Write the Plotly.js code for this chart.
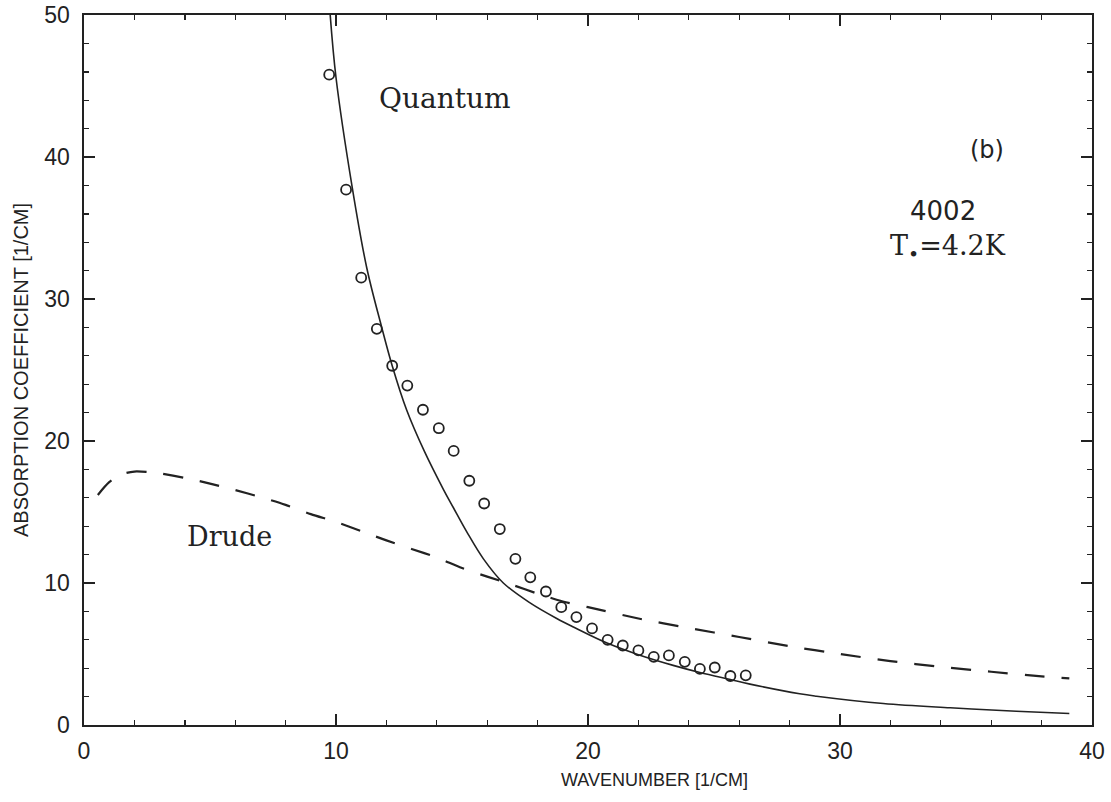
<!DOCTYPE html>
<html>
<head>
<meta charset="utf-8">
<script src="https://cdn.plot.ly/plotly-3.0.1.min.js"></script>
<style>html,body{margin:0;padding:0;background:#fff;}#chart{width:1111px;height:802px;}</style>
</head>
<body>
<div id="chart"></div>
<script>
// Measured absorption (open circles)
const dataX = [9.73, 10.40, 11.00, 11.62, 12.23, 12.83, 13.45, 14.08, 14.67, 15.29, 15.88, 16.50, 17.12, 17.71, 18.33, 18.94, 19.54, 20.16, 20.78, 21.38, 22.00, 22.61, 23.21, 23.84, 24.44, 25.03, 25.65, 26.26];
const dataY = [45.8, 37.7, 31.5, 27.9, 25.3, 23.9, 22.2, 20.9, 19.3, 17.2, 15.6, 13.8, 11.7, 10.4, 9.4, 8.3, 7.6, 6.8, 6.0, 5.6, 5.25, 4.8, 4.9, 4.45, 3.95, 4.05, 3.45, 3.5];

// Quantum model (solid)
const quantumX = [9.77, 10.0, 10.64, 11.22, 11.8, 12.23, 12.8, 13.5, 14.26, 14.66, 15.19, 15.85, 16.64, 17.7, 18.76, 19.42, 20.78, 22.0, 23.38, 24.44, 25.65, 26.43, 28.4, 29.07, 31.72, 34.37, 37.0, 39.1];
const quantumY = [50, 45.6, 37.9, 32.2, 28.1, 25.3, 22.2, 19.3, 16.6, 15.3, 13.6, 11.7, 10.0, 8.6, 7.5, 6.9, 5.75, 4.95, 4.2, 3.7, 3.2, 2.88, 2.2, 2.03, 1.51, 1.21, 0.97, 0.81];

// Drude model (dashed)
const drudeX = [0.55, 1.0, 1.5, 2.0, 2.5, 3.0, 4.0, 5.0, 6.0, 7.0, 8.0, 9.0, 10.0, 11.0, 12.0, 13.0, 14.0, 15.0, 16.0, 17.0, 18.0, 19.0, 20.0, 22.0, 24.0, 26.0, 28.0, 30.0, 32.0, 34.0, 36.0, 38.0, 39.1];
const drudeY = [16.2, 17.1, 17.65, 17.85, 17.82, 17.72, 17.4, 17.0, 16.55, 16.05, 15.5, 14.85, 14.3, 13.65, 13.0, 12.4, 11.8, 11.05, 10.45, 9.87, 9.25, 8.7, 8.3, 7.5, 6.83, 6.2, 5.55, 5.0, 4.5, 4.1, 3.75, 3.42, 3.28];

// Tick values
const xTicks = [0, 10, 20, 30, 40];
const yTicks = [0, 10, 20, 30, 40, 50];

const ink = '#222';

const traces = [
  {x: drudeX, y: drudeY, mode: 'lines', type: 'scatter', name: 'Drude',
   line: {color: ink, width: 2.2, dash: '20px,17px', shape: 'spline', smoothing: 0.8}, hoverinfo: 'x+y'},
  {x: quantumX, y: quantumY, mode: 'lines', type: 'scatter', name: 'Quantum',
   line: {color: ink, width: 1.6, shape: 'spline', smoothing: 1}, hoverinfo: 'x+y'},
  {x: dataX, y: dataY, mode: 'markers', type: 'scatter', name: 'data',
   marker: {symbol: 'circle-open', size: 10, color: ink, line: {color: ink, width: 1.8}}, hoverinfo: 'x+y'}
];

const axisCommon = {
  showgrid: false, zeroline: false, showline: true, linecolor: ink, linewidth: 1.6,
  mirror: 'allticks', ticks: 'inside', ticklen: 11, tickwidth: 1.6, tickcolor: ink,
  tickfont: {family: 'Liberation Sans, Arial, sans-serif', size: 23, color: ink},
  minor: {dtick: 2, ticks: 'inside', ticklen: 5, tickwidth: 1.4, tickcolor: ink}
};

const layout = {
  width: 1111, height: 802,
  margin: {l: 84, r: 19, t: 15, b: 77},
  paper_bgcolor: '#fff', plot_bgcolor: '#fff',
  showlegend: false,
  xaxis: Object.assign({}, axisCommon, {
    range: [0, 40], tickvals: xTicks, ticktext: xTicks.map(String), ticklabelstandoff: 5
  }),
  yaxis: Object.assign({}, axisCommon, {
    range: [0, 50], tickvals: yTicks, ticktext: yTicks.map(String), ticklabelstandoff: 8,
    title: {text: 'ABSORPTION COEFFICIENT [1/CM]', standoff: 10,
            font: {family: 'Liberation Sans Narrow, Liberation Sans, Arial, sans-serif', size: 20, color: ink}}
  }),
  annotations: [
    {xref: 'paper', yref: 'paper', x: 0.566, y: -0.077, yanchor: 'middle', xanchor: 'center', showarrow: false,
     text: 'WAVENUMBER [1/CM]', font: {family: 'Liberation Sans Narrow, Liberation Sans, Arial, sans-serif', size: 18, color: ink}},
    {x: 14.33, y: 44.1, xref: 'x', yref: 'y', showarrow: false, text: 'Quantum',
     font: {family: 'DejaVu Serif, serif', size: 28, color: ink}},
    {x: 5.79, y: 13.3, xref: 'x', yref: 'y', showarrow: false, text: 'Drude',
     font: {family: 'DejaVu Serif, serif', size: 27, color: ink}},
    {x: 35.83, y: 40.5, xref: 'x', yref: 'y', showarrow: false, text: '(b)',
     font: {family: 'DejaVu Sans, sans-serif', size: 24, color: ink}},
    {x: 34.07, y: 36.2, xref: 'x', yref: 'y', showarrow: false, text: '4002',
     font: {family: 'DejaVu Sans, sans-serif', size: 26, color: ink}},
    {x: 34.27, y: 33.6, xref: 'x', yref: 'y', showarrow: false, text: 'T<sub>•</sub>=4.2K',
     font: {family: 'DejaVu Serif, serif', size: 27, color: ink}}
  ]
};

Plotly.newPlot('chart', traces, layout, {displayModeBar: false, staticPlot: true});
</script>
</body>
</html>
